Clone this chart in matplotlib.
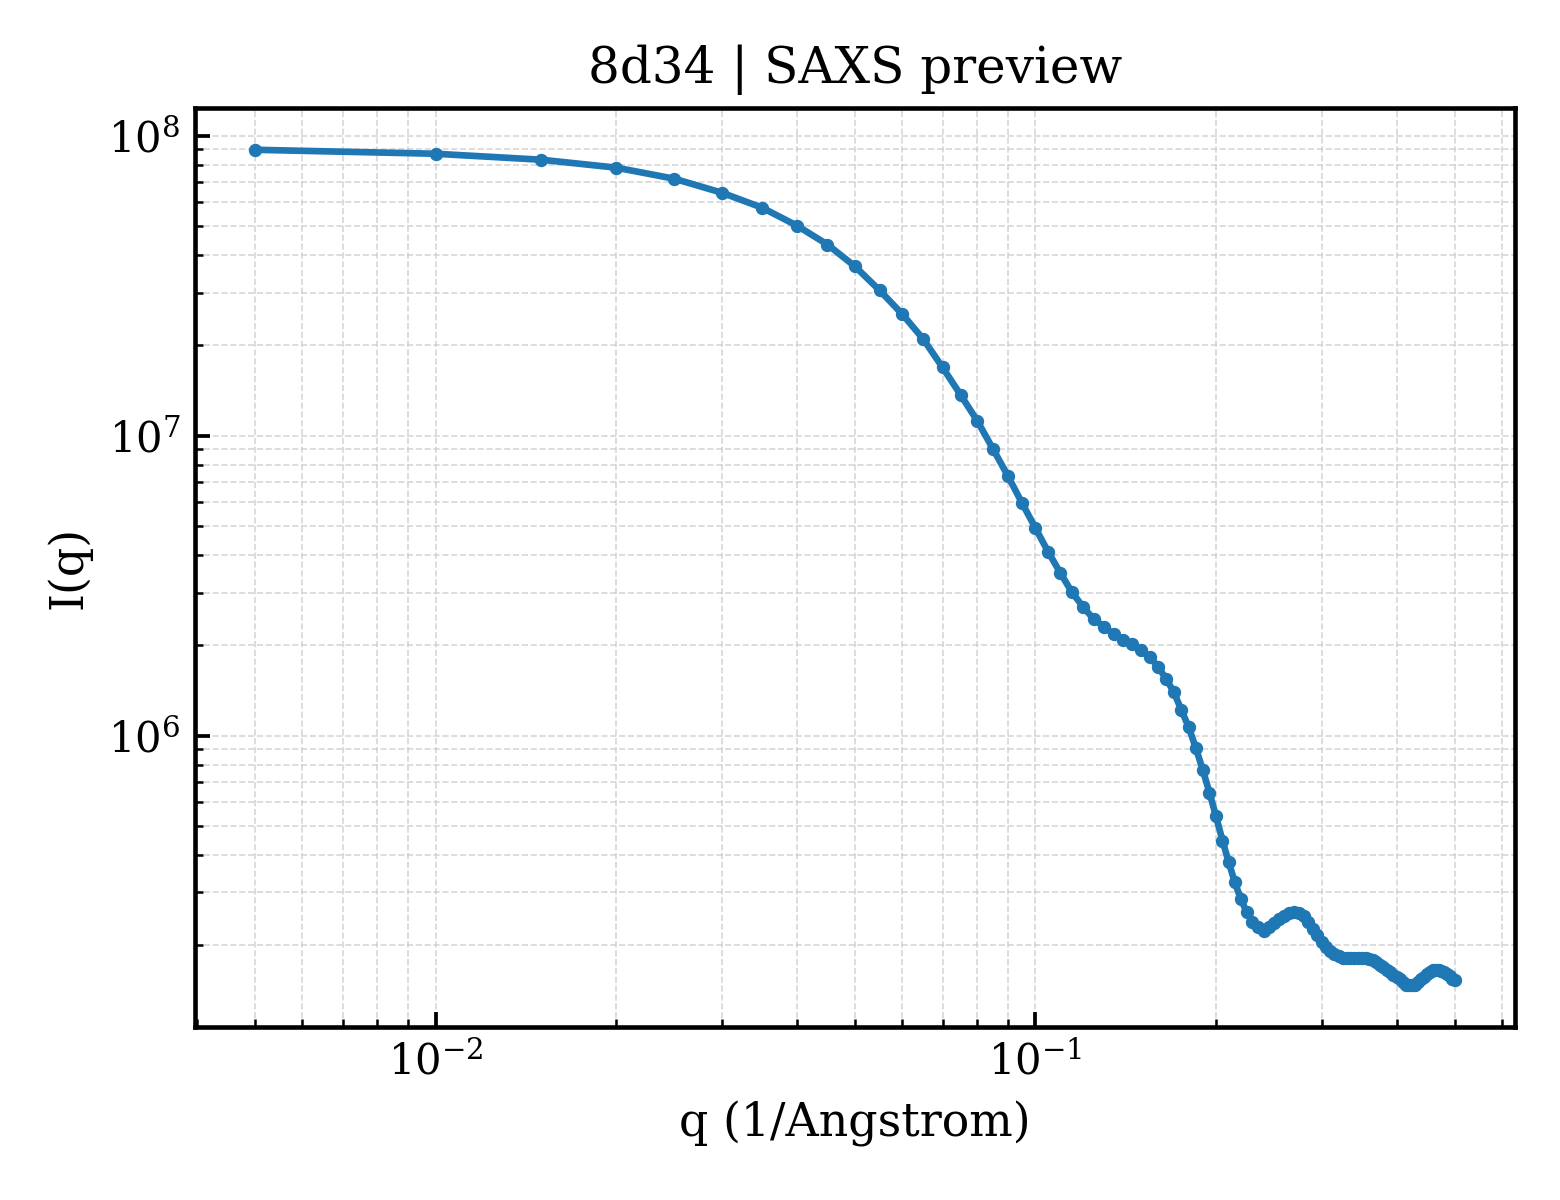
import numpy as np
import matplotlib
matplotlib.use("Agg")
import matplotlib.pyplot as plt

plt.rcParams['font.family'] = ['DejaVu Serif']
plt.rcParams['mathtext.fontset'] = 'dejavuserif'

q = np.round(np.arange(1, 101) * 0.005, 3)

intensity = [
    8.98e7, 8.71e7, 8.32e7, 7.83e7, 7.19e7, 6.46e7, 5.76e7, 5.02e7, 4.34e7, 3.67e7,
    3.05e7, 2.54e7, 2.10e7, 1.69e7, 1.37e7, 1.12e7, 9.02e6, 7.33e6, 5.96e6, 4.92e6,
    4.10e6, 3.49e6, 3.01e6, 2.69e6, 2.45e6, 2.31e6, 2.18e6, 2.09e6, 2.02e6, 1.93e6,
    1.83e6, 1.70e6, 1.55e6, 1.40e6, 1.22e6, 1.07e6, 9.12e5, 7.71e5, 6.46e5, 5.38e5,
    4.47e5, 3.78e5, 3.24e5, 2.85e5, 2.58e5, 2.39e5, 2.30e5, 2.24e5, 2.31e5, 2.37e5,
    2.44e5, 2.50e5, 2.56e5, 2.58e5, 2.56e5, 2.50e5, 2.39e5, 2.26e5, 2.16e5, 2.05e5,
    1.97e5, 1.91e5, 1.87e5, 1.84e5, 1.82e5, 1.81e5, 1.81e5, 1.81e5, 1.82e5, 1.82e5,
    1.81e5, 1.80e5, 1.78e5, 1.76e5, 1.72e5, 1.69e5, 1.66e5, 1.63e5, 1.59e5, 1.57e5,
    1.54e5, 1.51e5, 1.48e5, 1.47e5, 1.47e5, 1.48e5, 1.51e5, 1.54e5, 1.57e5, 1.60e5,
    1.63e5, 1.65e5, 1.66e5, 1.65e5, 1.64e5, 1.63e5, 1.60e5, 1.58e5, 1.55e5, 1.53e5,
]

title = "8d34 | SAXS preview"
xlabel = "q (1/Angstrom)"
ylabel = "I(q)"

fig = plt.figure(figsize=(5.2, 4.0), dpi=300)
ax = fig.add_axes([0.125, 0.144, 0.846, 0.766])
ax.plot(q, intensity, '-o', color='#1f77b4', linewidth=1.6, markersize=2.2)
ax.set_xscale('log')
ax.set_yscale('log')
ax.set_title(title, fontsize=12)
ax.set_xlabel(xlabel, fontsize=11)
ax.set_ylabel(ylabel, fontsize=11)
for s in ax.spines.values():
    s.set_linewidth(1.1)
ax.tick_params(which='both', direction='in', labelsize=10, top=False, right=False)
ax.tick_params(which='major', length=3.5, width=0.9)
ax.tick_params(which='minor', length=2, width=0.6)
ax.grid(True, which='both', linestyle='--', linewidth=0.4, color='#cccccc', alpha=0.8)
fig.savefig('out.png', dpi=300)
